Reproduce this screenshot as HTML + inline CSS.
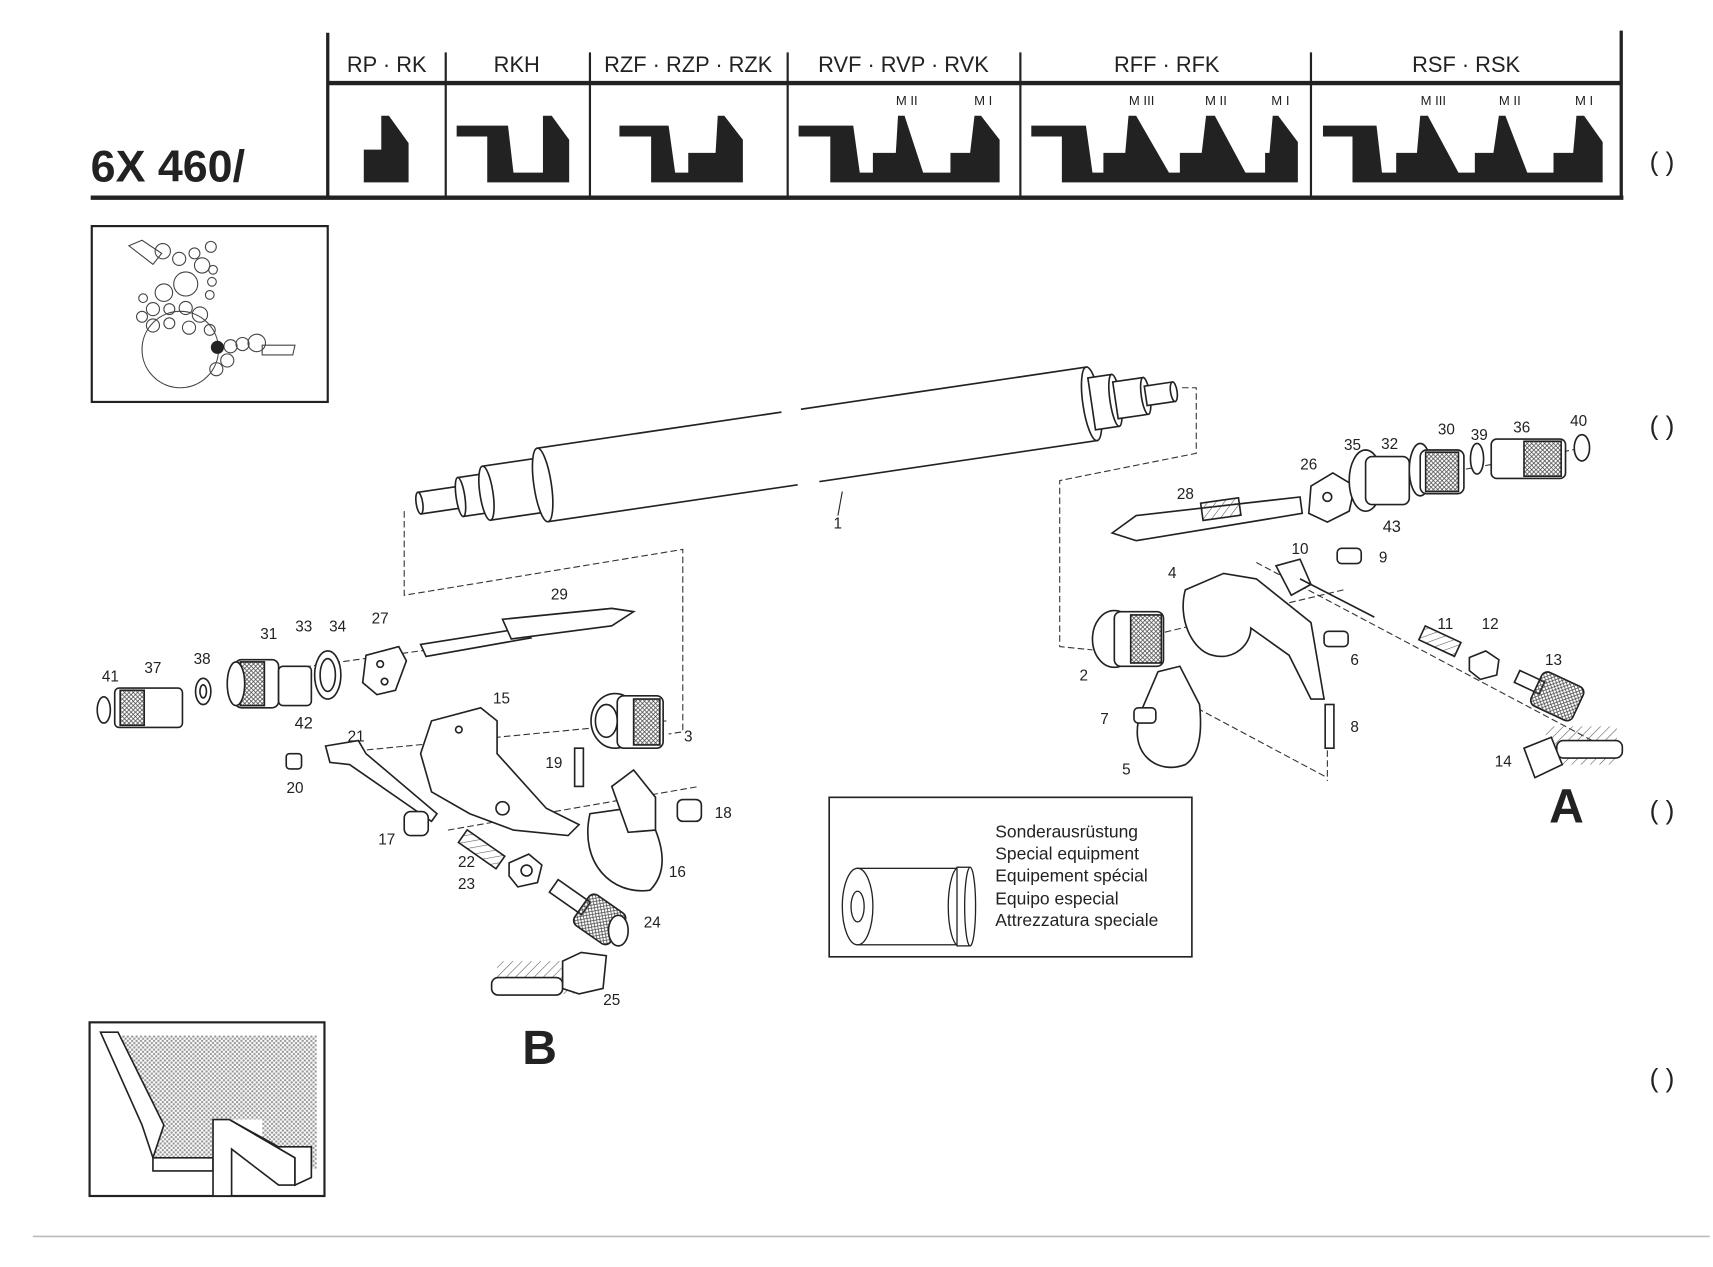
<!DOCTYPE html>
<html><head><meta charset="utf-8"><style>
html,body{margin:0;padding:0;background:#fff}
svg{display:block}
text{font-family:"Liberation Sans",sans-serif;fill:#222}
.n{font-size:14px}
</style></head><body>
<svg width="1713" height="1267" viewBox="0 0 1568 1160" preserveAspectRatio="none" xmlns="http://www.w3.org/2000/svg">
<defs>
<pattern id="dots" width="4" height="4" patternUnits="userSpaceOnUse"><rect width="4" height="4" fill="#fff"/><circle cx="1" cy="1" r="1.1" fill="#999"/><circle cx="3" cy="3" r="1.1" fill="#999"/></pattern>
<pattern id="hatch" width="6" height="6" patternUnits="userSpaceOnUse" patternTransform="rotate(45)"><line x1="0" y1="0" x2="0" y2="6" stroke="#555" stroke-width="1"/></pattern>
<pattern id="knurl" width="4" height="4" patternUnits="userSpaceOnUse"><path d="M0 0L4 4M4 0L0 4" stroke="#444" stroke-width="0.7"/></pattern>
</defs>
<rect width="1568" height="1160" fill="#fff"/>

<!-- header -->
<g stroke="#222" fill="none">
<line x1="300" y1="30" x2="300" y2="181" stroke-width="3"/>
<line x1="408" y1="48" x2="408" y2="181" stroke-width="2"/>
<line x1="540" y1="48" x2="540" y2="181" stroke-width="2"/>
<line x1="721" y1="48" x2="721" y2="181" stroke-width="2"/>
<line x1="934" y1="48" x2="934" y2="181" stroke-width="2"/>
<line x1="1200" y1="48" x2="1200" y2="181" stroke-width="2"/>
<line x1="1484" y1="28" x2="1484" y2="181" stroke-width="3"/>
<line x1="300" y1="76" x2="1484" y2="76" stroke-width="4"/>
<line x1="83" y1="181" x2="1486" y2="181" stroke-width="4"/>
</g>
<g font-size="20" text-anchor="middle">
<text x="354" y="66">RP · RK</text>
<text x="473" y="66">RKH</text>
<text x="630" y="66">RZF · RZP · RZK</text>
<text x="827" y="66">RVF · RVP · RVK</text>
<text x="1068" y="66">RFF · RFK</text>
<text x="1342" y="66">RSF · RSK</text>
</g>
<g font-size="12" text-anchor="middle">
<text x="830" y="96">M II</text><text x="900" y="96">M I</text>
<text x="1045" y="96">M III</text><text x="1113" y="96">M II</text><text x="1172" y="96">M I</text>
<text x="1312" y="96">M III</text><text x="1382" y="96">M II</text><text x="1450" y="96">M I</text>
</g>
<text x="83" y="166" font-size="41" font-weight="bold">6X 460/</text>
<g fill="#222">
<polygon points="333,167 374,167 374,131 356,106 349,106 349,137 333,137"/>
<polygon points="418,115 465,115 470,158 497,158 497,106 505,106 521,128 521,167 446,167 446,125 418,125"/>
<polygon points="567,115 612,115 618,158 630,158 630,140 655,140 657,106 663,106 680,128 680,167 596,167 596,125 567,125"/>
<polygon points="731,115 781,115 787,158 799,158 799,140 820,140 822,106 828,106 845,158 870,158 870,140 888,140 892,106 898,106 915,128 915,167 760,167 760,125 731,125"/>
<polygon points="944,115 994,115 1000,158 1010,158 1010,140 1030,140 1033,106 1040,106 1070,158 1080,158 1080,140 1100,140 1104,106 1112,106 1140,158 1158,158 1158,140 1162,140 1165,106 1170,106 1188,130 1188,167 972,167 972,125 944,125"/>
<polygon points="1211,115 1260,115 1265,158 1278,158 1278,140 1297,140 1300,106 1307,106 1335,158 1350,158 1350,140 1367,140 1372,106 1378,106 1398,158 1422,158 1422,140 1440,140 1443,106 1450,106 1467,130 1467,167 1238,167 1238,125 1211,125"/>
</g>

<!-- thumbnail -->
<rect x="84" y="207" width="216" height="161" fill="#fff" stroke="#222" stroke-width="2"/>
<g fill="none" stroke="#444" stroke-width="1">
<polygon points="118,225 130,220 148,232 140,242"/>
<circle cx="149" cy="230" r="7"/><circle cx="164" cy="237" r="6"/><circle cx="178" cy="232" r="5"/><circle cx="193" cy="226" r="5"/>
<circle cx="185" cy="243" r="7"/><circle cx="195" cy="247" r="4"/><circle cx="170" cy="260" r="11"/><circle cx="194" cy="258" r="4"/>
<circle cx="150" cy="268" r="8"/><circle cx="192" cy="270" r="4"/><circle cx="131" cy="273" r="4"/><circle cx="140" cy="283" r="6"/>
<circle cx="155" cy="283" r="5"/><circle cx="170" cy="282" r="6"/><circle cx="183" cy="288" r="7"/><circle cx="130" cy="290" r="5"/>
<circle cx="140" cy="298" r="6"/><circle cx="155" cy="296" r="5"/><circle cx="173" cy="300" r="6"/><circle cx="192" cy="302" r="5"/>
<circle cx="165" cy="320" r="35"/><circle cx="211" cy="317" r="6"/><circle cx="222" cy="315" r="6"/><circle cx="235" cy="314" r="8"/>
<circle cx="208" cy="330" r="6"/><circle cx="198" cy="338" r="6"/>
<polygon points="240,316 270,316 268,325 240,325"/>
</g>
<circle cx="199" cy="318" r="6" fill="#222"/>

<!-- roller -->
<g transform="rotate(-8.4 747 407)" fill="#fff" stroke="#222" stroke-width="1.5">
<rect x="380" y="397" width="40" height="20"/><ellipse cx="380" cy="407" rx="3" ry="10"/>
<rect x="418" y="389" width="26" height="36"/><ellipse cx="418" cy="407" rx="4" ry="18"/>
<rect x="442" y="382" width="52" height="50"/><ellipse cx="442" cy="407" rx="6" ry="25"/>
<rect x="494" y="373" width="508" height="68"/><ellipse cx="494" cy="407" rx="8" ry="34"/>
<ellipse cx="1002" cy="407" rx="8" ry="34"/>
<rect x="1002" y="383" width="22" height="48"/><ellipse cx="1024" cy="407" rx="5" ry="24"/>
<rect x="1024" y="390" width="28" height="34"/><ellipse cx="1052" cy="407" rx="4" ry="17"/>
<rect x="1052" y="398" width="26" height="18"/><ellipse cx="1078" cy="407" rx="3" ry="9"/>
<line x1="720" y1="372" x2="738" y2="372" stroke="#fff" stroke-width="4"/>
<line x1="725" y1="442" x2="745" y2="442" stroke="#fff" stroke-width="4"/>
</g>
<line x1="767" y1="472" x2="771" y2="450" stroke="#222"/>
<text class="n" x="763" y="484">1</text>

<!-- dashed leaders -->
<g fill="none" stroke="#333" stroke-width="1" stroke-dasharray="6,3">
<polyline points="370,468 370,545 625,503 625,670 612,672"/>
<polyline points="1082,355 1095,355 1095,415 970,440 970,592 1000,595"/>
<line x1="225" y1="618" x2="500" y2="580"/>
<line x1="300" y1="690" x2="610" y2="660"/>
<line x1="410" y1="760" x2="640" y2="720"/>
<line x1="1040" y1="585" x2="1230" y2="540"/>
<line x1="1150" y1="515" x2="1480" y2="690"/>
<line x1="1200" y1="455" x2="1450" y2="410"/>
<line x1="1080" y1="640" x2="1215" y2="712"/>
<line x1="1215" y1="660" x2="1215" y2="715"/>
</g>

<!-- left assembly -->
<g fill="#fff" stroke="#222" stroke-width="1.5">
<ellipse cx="95" cy="650" rx="6" ry="12"/>
<rect x="105" y="630" width="62" height="36" rx="4"/><rect x="110" y="632" width="22" height="32" fill="url(#knurl)"/>
<ellipse cx="186" cy="633" rx="7" ry="12"/><ellipse cx="186" cy="633" rx="3" ry="6"/>
<rect x="215" y="604" width="40" height="44" rx="6"/><rect x="220" y="606" width="22" height="40" fill="url(#knurl)"/>
<ellipse cx="216" cy="626" rx="8" ry="20"/>
<rect x="255" y="610" width="30" height="36" rx="4"/>
<ellipse cx="300" cy="618" rx="12" ry="22"/><ellipse cx="300" cy="618" rx="7" ry="15"/>
<polygon points="335,600 365,592 372,605 362,632 345,636 332,625"/>
<circle cx="348" cy="608" r="3"/><circle cx="352" cy="624" r="3"/>
<polygon points="385,590 480,575 486,584 390,601"/>
<polygon points="460,567 560,557 580,560 560,573 468,585"/>
<polygon points="395,660 440,648 455,660 455,690 500,740 530,755 520,765 470,760 430,745 395,725 385,690"/>
<circle cx="420" cy="668" r="3"/><circle cx="460" cy="740" r="6"/>
<polygon points="298,683 328,678 335,690 400,745 395,752 320,700 302,698"/>
<rect x="262" y="690" width="14" height="14" rx="3"/>
<ellipse cx="563" cy="660" rx="22" ry="25"/><rect x="565" y="637" width="42" height="48" rx="6"/><rect x="580" y="640" width="24" height="42" fill="url(#knurl)"/><ellipse cx="555" cy="660" rx="10" ry="15"/>
<rect x="526" y="685" width="8" height="35"/>
<path d="M540,745 C530,790 560,820 595,815 C610,800 608,780 600,760 L575,740 Z"/>
<polygon points="560,720 580,705 600,730 600,760 575,762"/>
<rect x="620" y="732" width="22" height="20" rx="5"/>
<rect x="370" y="743" width="22" height="22" rx="6"/>
<g transform="rotate(35 440 777)"><rect x="420" y="770" width="42" height="14" fill="url(#hatch)"/></g>
<polygon points="466,790 484,782 496,792 492,808 474,812 466,802"/><circle cx="482" cy="797" r="5"/>
<g transform="rotate(35 535 832)"><rect x="500" y="824" width="36" height="14"/><rect x="532" y="815" width="40" height="34" rx="6" fill="url(#knurl)"/></g>
<ellipse cx="566" cy="852" rx="9" ry="14"/>
<rect x="455" y="880" width="70" height="30" fill="url(#hatch)" stroke="none"/>
<rect x="450" y="895" width="65" height="16" rx="6"/>
<polygon points="515,880 532,872 555,875 552,905 530,910 515,905"/>
</g>

<!-- right assembly -->
<g fill="#fff" stroke="#222" stroke-width="1.5">
<polygon points="1018,488 1040,472 1190,455 1192,470 1040,495"/>
<g transform="rotate(-8 1140 465)"><rect x="1100" y="455" width="35" height="16" fill="url(#hatch)"/></g>
<polygon points="1200,445 1220,433 1240,445 1235,468 1215,478 1198,470"/><circle cx="1215" cy="455" r="4"/>
<ellipse cx="1250" cy="440" rx="15" ry="28"/><rect x="1250" y="418" width="40" height="44" rx="6"/>
<ellipse cx="1300" cy="430" rx="10" ry="24"/><rect x="1300" y="412" width="40" height="40" rx="6"/><rect x="1305" y="414" width="30" height="36" fill="url(#knurl)"/>
<ellipse cx="1352" cy="420" rx="6" ry="14"/>
<rect x="1365" y="402" width="68" height="36" rx="5"/><rect x="1395" y="404" width="34" height="32" fill="url(#knurl)"/>
<ellipse cx="1448" cy="410" rx="7" ry="12"/>
<ellipse cx="1020" cy="585" rx="20" ry="26"/><rect x="1020" y="560" width="45" height="50" rx="6"/><rect x="1035" y="563" width="28" height="44" fill="url(#knurl)"/>
<path d="M1085,540 C1078,565 1090,595 1110,600 C1130,605 1145,590 1145,575 L1180,600 1200,640 1212,640 1200,570 1150,530 1120,525 Z"/>
<path d="M1045,650 C1030,690 1060,710 1085,700 C1100,690 1100,665 1098,645 L1080,610 1060,615 Z"/>
<rect x="1038" y="648" width="20" height="14" rx="4"/>
<rect x="1213" y="645" width="8" height="40"/>
<polygon points="1168,518 1190,512 1200,535 1182,545"/><line x1="1190" y1="530" x2="1258" y2="565"/>
<rect x="1224" y="502" width="22" height="14" rx="4"/>
<rect x="1212" y="578" width="22" height="14" rx="4"/>
<g transform="rotate(25 1318 587)"><rect x="1300" y="580" width="36" height="14" fill="url(#hatch)"/></g>
<polygon points="1345,602 1360,596 1372,604 1370,618 1355,622 1345,614"/>
<g transform="rotate(25 1420 635)"><rect x="1385" y="628" width="25" height="12"/><rect x="1405" y="618" width="42" height="34" rx="6" fill="url(#knurl)"/></g>
<rect x="1415" y="665" width="65" height="35" fill="url(#hatch)" stroke="none"/>
<rect x="1425" y="678" width="60" height="16" rx="6"/>
<polygon points="1395,685 1420,675 1430,700 1405,712"/>
</g>

<!-- numbers -->
<g class="n" font-size="14" text-anchor="middle">
<text x="992" y="623">2</text><text x="630" y="679">3</text><text x="1073" y="529">4</text><text x="1031" y="709">5</text>
<text x="1240" y="609">6</text><text x="1011" y="663">7</text><text x="1240" y="670">8</text><text x="1266" y="515">9</text>
<text x="1190" y="507">10</text><text x="1323" y="576">11</text><text x="1364" y="576">12</text><text x="1422" y="609">13</text>
<text x="1376" y="702">14</text><text x="459" y="644">15</text><text x="620" y="803">16</text><text x="354" y="773">17</text>
<text x="662" y="749">18</text><text x="507" y="703">19</text><text x="270" y="726">20</text><text x="326" y="679">21</text>
<text x="427" y="794">22</text><text x="427" y="814">23</text><text x="597" y="849">24</text><text x="560" y="920">25</text>
<text x="1198" y="430">26</text><text x="348" y="571">27</text><text x="1085" y="457">28</text><text x="512" y="549">29</text>
<text x="1324" y="398">30</text><text x="246" y="585">31</text><text x="1272" y="411">32</text><text x="278" y="578">33</text>
<text x="309" y="578">34</text><text x="1238" y="412">35</text><text x="1393" y="396">36</text><text x="140" y="616">37</text>
<text x="185" y="608">38</text><text x="1354" y="403">39</text><text x="1445" y="390">40</text><text x="101" y="624">41</text>
<text x="278" y="667" font-size="15">42</text><text x="1274" y="487" font-size="15">43</text><text x="790" y="768">44</text>
</g>
<text x="1418" y="753" font-size="44" font-weight="bold">A</text>
<text x="478" y="974" font-size="44" font-weight="bold">B</text>

<!-- special equipment -->
<rect x="759" y="730" width="332" height="146" fill="#fff" stroke="#222" stroke-width="1.5"/>
<g fill="#fff" stroke="#222" stroke-width="1.2">
<rect x="785" y="795" width="90" height="70"/>
<ellipse cx="785" cy="830" rx="14" ry="35"/><ellipse cx="785" cy="830" rx="6" ry="14"/>
<ellipse cx="878" cy="830" rx="10" ry="36"/><rect x="876" y="794" width="12" height="72"/><ellipse cx="888" cy="830" rx="5" ry="36"/>
</g>
<g font-size="16">
<text x="911" y="767">Sonderausrüstung</text><text x="911" y="787">Special equipment</text>
<text x="911" y="807">Equipement spécial</text><text x="911" y="828">Equipo especial</text>
<text x="911" y="848">Attrezzatura speciale</text>
</g>

<!-- bottom-left box -->
<rect x="82" y="936" width="215" height="159" fill="#fff" stroke="#222" stroke-width="2"/>
<polygon points="110,948 290,948 290,1070 240,1070 240,1025 195,1025 195,1060 140,1060 150,1030" fill="url(#dots)"/>
<g fill="#fff" stroke="#222" stroke-width="1.5">
<polygon points="92,945 108,945 150,1030 140,1060 130,1030"/>
<polygon points="140,1060 195,1060 195,1072 140,1072"/>
<polygon points="195,1025 210,1025 270,1060 270,1085 255,1085 212,1052 212,1095 195,1095"/>
<polygon points="210,1025 255,1050 285,1050 285,1078 270,1085 270,1060"/>
</g>

<!-- right margin marks -->
<g font-size="24" fill="#777">
<text x="1510" y="156" fill="#777">(  )</text><text x="1510" y="398" fill="#777">(  )</text>
<text x="1510" y="750" fill="#777">(  )</text><text x="1510" y="995" fill="#777">(  )</text>
</g>
<line x1="30" y1="1132" x2="1565" y2="1132" stroke="#bbb" stroke-width="1.5"/>
</svg>
</body></html>
